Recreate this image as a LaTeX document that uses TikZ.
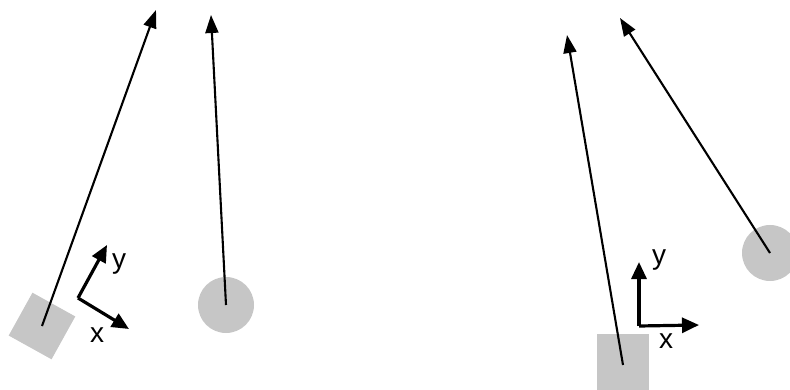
\documentclass[tikz,border=0pt]{standalone}
\usepackage{fontspec}
\setmainfont{Liberation Sans}
\usetikzlibrary{arrows.meta}
\definecolor{shade}{HTML}{C6C6C6}
\tikzset{
  body/.style={fill=shade, draw=none, inner sep=0pt, outer sep=0pt},
  ray/.style={line width=2.1pt, -{Triangle[length=18pt,width=13pt]}},
  axis/.style={line width=3.2pt, -{Triangle[length=17pt,width=15pt]}},
  lbl/.style={font=\fontsize{28}{28}\selectfont, inner sep=0pt}
}
\begin{document}
\begin{tikzpicture}[x=1pt,y=-1pt]
\useasboundingbox (0,0) rectangle (790,390);
% left panel
\node[body, rectangle, minimum size=49pt, rotate=-29] (sq1) at (42,326) {};
\node[body, circle, minimum size=56pt] (c1) at (226,305) {};
\coordinate (t1) at (156,10);
\coordinate (t2) at (211,15);
\draw[ray] (sq1.center) -- (t1);
\draw[ray] (c1.center) -- (t2);
\coordinate (o1) at (78,298);
\coordinate (x1) at (129,329);
\coordinate (y1) at (107,245);
\draw[axis] (o1) -- (x1);
\draw[axis] (o1) -- (y1);
\node[lbl] (lx1) at (97,335) {x};
\node[lbl] (ly1) at (119,264) {y};
% right panel
\node[body, rectangle, minimum width=52pt, minimum height=58pt] (sq2) at (623,363) {};
\node[body, circle, minimum size=56pt] (c2) at (770,253) {};
\coordinate (t3) at (567,35);
\coordinate (t4) at (620,18);
\draw[ray] (sq2.center) ++(0,2) -- (t3);
\draw[ray] (c2.center) -- (t4);
\coordinate (o2) at (639,326);
\coordinate (x2) at (699,325);
\coordinate (y2) at (639,262);
\draw[axis] (o2) -- (x2);
\draw[axis] (o2) -- (y2);
\node[lbl] (lx2) at (666,341) {x};
\node[lbl] (ly2) at (659,260) {y};
\end{tikzpicture}
\end{document}
